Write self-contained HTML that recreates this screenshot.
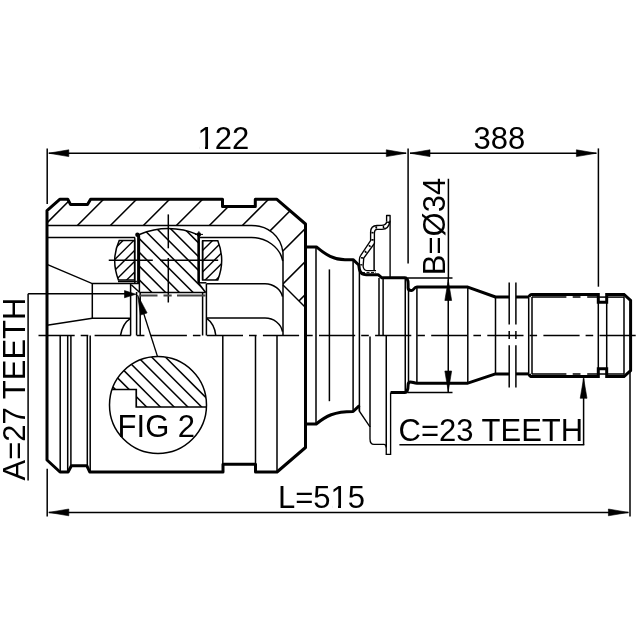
<!DOCTYPE html><html><head><meta charset="utf-8"><style>html,body{margin:0;padding:0;background:#fff;width:640px;height:640px;overflow:hidden}svg{display:block;will-change:transform}</style></head><body><svg width="640" height="640" viewBox="0 0 640 640" stroke="#000" fill="none" stroke-linecap="butt"><defs><clipPath id="cband"><path d="M47,210.6 L60,199.2 L67.75,199.2 L70.6,204.6 L87.5,204.6 L90.6,199.2 L222.5,199.2 L222.5,206.4 L255.3,206.4 L255.3,199.2 L276.6,199.2 L305.5,224 L305.5,307.5 L283,285 L283,252.5 C281,236 268,225.4 251.5,225.4 L47,225.4 Z"/></clipPath><clipPath id="ctrun"><path d="M139.4,234.5 Q169,222.5 198.5,235 L198.5,283 L205.6,292.5 L139.4,292.5 Z"/></clipPath><clipPath id="crollL"><path d="M134.6,240.6 L119.2,240.6 Q110.6,259.5 118.4,279.9 L134.6,279.9 Z"/></clipPath><clipPath id="crollR"><path d="M202.6,240.8 L217.8,240.8 Q225.6,260.3 217.8,279.9 L202.6,279.9 Z"/></clipPath><clipPath id="cfig"><circle cx="158" cy="405" r="48.5"/></clipPath><clipPath id="cfig2"><path d="M100,389.5 L136.25,389.5 L136.25,407 L210,407 L210,350 L100,350 Z"/></clipPath></defs>
<line x1="38.5" y1="335.5" x2="635.7" y2="335.5" stroke-width="1.5" stroke-dasharray="36.2 6 7.6 6.3"/>
<line x1="48.8" y1="153.2" x2="406" y2="153.2" stroke-width="1.5" />
<polygon points="48.8,153.2 68.8,149.8 68.8,156.6" fill="#000" stroke="#000" stroke-width="0.6" stroke-linejoin="miter"/>
<polygon points="406.3,153.2 386.3,156.6 386.3,149.8" fill="#000" stroke="#000" stroke-width="0.6" stroke-linejoin="miter"/>
<line x1="410" y1="153.2" x2="596.4" y2="153.2" stroke-width="1.5" />
<polygon points="410,153.2 430,149.8 430,156.6" fill="#000" stroke="#000" stroke-width="0.6" stroke-linejoin="miter"/>
<polygon points="596.4,153.2 576.4,156.6 576.4,149.8" fill="#000" stroke="#000" stroke-width="0.6" stroke-linejoin="miter"/>
<line x1="47.2" y1="148.4" x2="47.2" y2="204" stroke-width="1.5" />
<line x1="408.1" y1="148.4" x2="408.1" y2="263.5" stroke-width="1.5" />
<line x1="598.4" y1="148.4" x2="598.4" y2="286.7" stroke-width="1.5" />
<line x1="48.8" y1="512.4" x2="628.4" y2="512.4" stroke-width="1.5" />
<polygon points="48.8,512.4 68.8,509 68.8,515.8" fill="#000" stroke="#000" stroke-width="0.6" stroke-linejoin="miter"/>
<polygon points="628.4,512.4 608.4,515.8 608.4,509" fill="#000" stroke="#000" stroke-width="0.6" stroke-linejoin="miter"/>
<line x1="47.2" y1="468.7" x2="47.2" y2="516.6" stroke-width="1.5" />
<line x1="630" y1="371.6" x2="630" y2="516.6" stroke-width="1.5" />
<path d="M47,335.5 L47,210.6 L60,199.2 L67.75,199.2 L70.6,204.6 L87.5,204.6 L90.6,199.2 L222.5,199.2 L222.5,206.4 L255.3,206.4 L255.3,199.2 L276.6,199.2 L305.5,224 L305.5,447.5 L277,472 L255.5,472 L255.5,464.2 L223,464.2 L223,472 L89.7,472 L86.9,465.8 L71.4,465.8 L68.1,472 L60,472 L47,460 Z" stroke-width="3.0" fill="none" stroke-linejoin="round"/>
<g clip-path="url(#cband)">
<line x1="86.9" y1="150" x2="-283.1" y2="520" stroke-width="1.5" />
<line x1="119.9" y1="150" x2="-250.1" y2="520" stroke-width="1.5" />
<line x1="152.9" y1="150" x2="-217.1" y2="520" stroke-width="1.5" />
<line x1="185.9" y1="150" x2="-184.1" y2="520" stroke-width="1.5" />
<line x1="218.9" y1="150" x2="-151.1" y2="520" stroke-width="1.5" />
<line x1="251.9" y1="150" x2="-118.1" y2="520" stroke-width="1.5" />
<line x1="284.9" y1="150" x2="-85.1" y2="520" stroke-width="1.5" />
<line x1="317.9" y1="150" x2="-52.1" y2="520" stroke-width="1.5" />
<line x1="350.9" y1="150" x2="-19.1" y2="520" stroke-width="1.5" />
<line x1="383.9" y1="150" x2="13.9" y2="520" stroke-width="1.5" />
<line x1="416.9" y1="150" x2="46.9" y2="520" stroke-width="1.5" />
<line x1="449.9" y1="150" x2="79.9" y2="520" stroke-width="1.5" />
<line x1="482.9" y1="150" x2="112.9" y2="520" stroke-width="1.5" />
</g>
<path d="M47,225.4 L251.5,225.4 C268,225.4 281,236 283,252.5 L283,335.5" stroke-width="1.5" fill="none" />
<path d="M47,237.5 L135,237.5 M200,237.5 L251.5,237.5 C266,237.5 280,247 282.8,261" stroke-width="1.5" fill="none" />
<line x1="283" y1="285" x2="305.5" y2="307.5" stroke-width="1.5" />
<path d="M206.4,283.75 L265,283.75 C274,283.75 281,290 282.5,296.6" stroke-width="1.5" fill="none" />
<path d="M206.4,318.1 L265,318.1 C274,318.1 281,324 282.5,331.7" stroke-width="1.5" fill="none" />
<line x1="206.4" y1="283.75" x2="206.4" y2="335.5" stroke-width="1.5" />
<line x1="202.6" y1="292.5" x2="202.6" y2="335.5" stroke-width="1.5" />
<path d="M206.4,318.1 C212,322 215,328 215.8,335.5" stroke-width="1.5" fill="none" />
<path d="M47,264.4 L92.3,283.6 L139,283.6" stroke-width="1.5" fill="none" />
<line x1="92.3" y1="283.6" x2="92.3" y2="318.3" stroke-width="1.5" />
<path d="M47,325.3 L92.3,318.3 L130.6,318.3" stroke-width="1.5" fill="none" />
<line x1="130.6" y1="283.6" x2="130.6" y2="335.5" stroke-width="1.5" />
<line x1="136.6" y1="292" x2="136.6" y2="335.5" stroke-width="1.5" />
<line x1="140.2" y1="292.5" x2="140.2" y2="335.5" stroke-width="1.5" />
<line x1="131.25" y1="284.7" x2="139.2" y2="292" stroke-width="1.5" />
<path d="M120.5,335.5 C122,327 126,321 130.6,318.3" stroke-width="1.5" fill="none" />
<g clip-path="url(#ctrun)">
<line x1="-128.1" y1="150" x2="241.9" y2="520" stroke-width="1.5" />
<line x1="-114.35" y1="150" x2="255.65" y2="520" stroke-width="1.5" />
<line x1="-100.6" y1="150" x2="269.4" y2="520" stroke-width="1.5" />
<line x1="-86.85" y1="150" x2="283.15" y2="520" stroke-width="1.5" />
<line x1="-73.1" y1="150" x2="296.9" y2="520" stroke-width="1.5" />
<line x1="-59.35" y1="150" x2="310.65" y2="520" stroke-width="1.5" />
<line x1="-45.6" y1="150" x2="324.4" y2="520" stroke-width="1.5" />
<line x1="-31.85" y1="150" x2="338.15" y2="520" stroke-width="1.5" />
<line x1="-18.1" y1="150" x2="351.9" y2="520" stroke-width="1.5" />
<line x1="-4.35" y1="150" x2="365.65" y2="520" stroke-width="1.5" />
<line x1="9.4" y1="150" x2="379.4" y2="520" stroke-width="1.5" />
<line x1="23.15" y1="150" x2="393.15" y2="520" stroke-width="1.5" />
<line x1="36.9" y1="150" x2="406.9" y2="520" stroke-width="1.5" />
<line x1="50.65" y1="150" x2="420.65" y2="520" stroke-width="1.5" />
<line x1="64.4" y1="150" x2="434.4" y2="520" stroke-width="1.5" />
<line x1="78.15" y1="150" x2="448.15" y2="520" stroke-width="1.5" />
<line x1="91.9" y1="150" x2="461.9" y2="520" stroke-width="1.5" />
<line x1="105.65" y1="150" x2="475.65" y2="520" stroke-width="1.5" />
<line x1="119.4" y1="150" x2="489.4" y2="520" stroke-width="1.5" />
<line x1="133.15" y1="150" x2="503.15" y2="520" stroke-width="1.5" />
<line x1="146.9" y1="150" x2="516.9" y2="520" stroke-width="1.5" />
</g>
<path d="M139.4,292.5 L139.4,234.5 Q169,222.5 198.5,235 L198.5,283 L205.6,292.5" stroke-width="1.5" fill="none" />
<g clip-path="url(#crollL)">
<line x1="181.1" y1="150" x2="-188.9" y2="520" stroke-width="1.4" />
<line x1="191.9" y1="150" x2="-178.1" y2="520" stroke-width="1.4" />
<line x1="202.7" y1="150" x2="-167.3" y2="520" stroke-width="1.4" />
<line x1="213.5" y1="150" x2="-156.5" y2="520" stroke-width="1.4" />
<line x1="224.3" y1="150" x2="-145.7" y2="520" stroke-width="1.4" />
<line x1="235.1" y1="150" x2="-134.9" y2="520" stroke-width="1.4" />
<line x1="245.9" y1="150" x2="-124.1" y2="520" stroke-width="1.4" />
<line x1="256.7" y1="150" x2="-113.3" y2="520" stroke-width="1.4" />
<line x1="267.5" y1="150" x2="-102.5" y2="520" stroke-width="1.4" />
<line x1="278.3" y1="150" x2="-91.7" y2="520" stroke-width="1.4" />
<line x1="289.1" y1="150" x2="-80.9" y2="520" stroke-width="1.4" />
<line x1="299.9" y1="150" x2="-70.1" y2="520" stroke-width="1.4" />
<line x1="310.7" y1="150" x2="-59.3" y2="520" stroke-width="1.4" />
<line x1="321.5" y1="150" x2="-48.5" y2="520" stroke-width="1.4" />
</g>
<path d="M134.6,240.6 L119.2,240.6 Q110.6,259.5 118.4,279.9 L134.6,279.9 Z" stroke-width="1.5" fill="none" />
<g clip-path="url(#crollR)">
<line x1="271" y1="150" x2="-99" y2="520" stroke-width="1.4" />
<line x1="281.7" y1="150" x2="-88.3" y2="520" stroke-width="1.4" />
<line x1="292.4" y1="150" x2="-77.6" y2="520" stroke-width="1.4" />
<line x1="303.1" y1="150" x2="-66.9" y2="520" stroke-width="1.4" />
<line x1="313.8" y1="150" x2="-56.2" y2="520" stroke-width="1.4" />
<line x1="324.5" y1="150" x2="-45.5" y2="520" stroke-width="1.4" />
<line x1="335.2" y1="150" x2="-34.8" y2="520" stroke-width="1.4" />
<line x1="345.9" y1="150" x2="-24.1" y2="520" stroke-width="1.4" />
<line x1="356.6" y1="150" x2="-13.4" y2="520" stroke-width="1.4" />
<line x1="367.3" y1="150" x2="-2.7" y2="520" stroke-width="1.4" />
<line x1="378" y1="150" x2="8" y2="520" stroke-width="1.4" />
<line x1="388.7" y1="150" x2="18.7" y2="520" stroke-width="1.4" />
<line x1="399.4" y1="150" x2="29.4" y2="520" stroke-width="1.4" />
</g>
<path d="M202.6,240.8 L217.8,240.8 Q225.6,260.3 217.8,279.9 L202.6,279.9 Z" stroke-width="1.5" fill="none" />
<line x1="134.8" y1="237.5" x2="134.8" y2="283.3" stroke-width="1.4" />
<line x1="138.2" y1="235" x2="138.2" y2="283.3" stroke-width="2.2" />
<line x1="198.7" y1="235.5" x2="198.7" y2="282.5" stroke-width="2.5" />
<circle cx="137.4" cy="234.8" r="2.2" fill="#000" stroke="none"/>
<circle cx="198.9" cy="234.4" r="2.2" fill="#000" stroke="none"/>
<line x1="195" y1="234.4" x2="203" y2="234.4" stroke-width="1.0" />
<line x1="198.9" y1="231.2" x2="198.9" y2="236" stroke-width="1.0" />
<line x1="202.6" y1="240.8" x2="202.6" y2="279.9" stroke-width="1.5" />
<line x1="198.5" y1="282.8" x2="206.4" y2="282.8" stroke-width="1.5" />
<line x1="118" y1="281.5" x2="136.9" y2="281.5" stroke-width="1.5" />
<line x1="108.75" y1="260.3" x2="152.8" y2="260.3" stroke-width="1.5" />
<line x1="160.2" y1="260.3" x2="218.2" y2="260.3" stroke-width="1.5" />
<line x1="168.3" y1="214.4" x2="168.3" y2="248.3" stroke-width="1.5" />
<line x1="168.3" y1="258" x2="168.3" y2="302.5" stroke-width="1.5" />
<line x1="139.4" y1="292.5" x2="205.6" y2="292.5" stroke-width="1.4" />
<line x1="139.4" y1="295.6" x2="205.6" y2="295.6" stroke-width="2.0" stroke="#444" stroke-dasharray="18.1 6 8.2 5.3 40"/>
<path d="M305.5,246.9 L316.4,246.9 C326,255 334,259.7 345,259.7 L353.1,259.7 L358.75,265 L359.4,269.4 C360,272 362,274.7 366.25,274.7 L378.1,274.7 L381.9,277.8 L405,277.8 C408,277.8 408.1,281 408.1,284 L408.1,288 C408.1,290 410,290.6 411.5,290.6 C413.5,290.6 414,287.1 416.9,287.1 L467.8,287.1 L495.5,297 L509,297" stroke-width="3.0" fill="none" stroke-linejoin="round"/>
<path d="M305.5,424 L316.2,424 C326,416 334,411.5 353.1,411.5 L359.4,405.6" stroke-width="3.0" fill="none" stroke-linejoin="round"/>
<path d="M390.6,392.5 L405,392.5 C407,392.5 408.1,389 408.1,385 C408.1,383 409,381.9 410.5,381.9 C413,381.9 414,383.2 416.9,383.2 L467.8,383.2 L495.5,373.9 L509,373.9" stroke-width="3.0" fill="none" stroke-linejoin="round"/>
<line x1="316" y1="246.9" x2="316" y2="424" stroke-width="1.5" />
<line x1="329.4" y1="269.4" x2="329.4" y2="401.2" stroke-width="1.5" />
<line x1="353.1" y1="259.7" x2="353.1" y2="411.5" stroke-width="1.5" />
<line x1="359.4" y1="266" x2="359.4" y2="411.25" stroke-width="1.5" />
<line x1="379" y1="278" x2="379" y2="335.5" stroke-width="1.5" />
<line x1="383.1" y1="278" x2="383.1" y2="335.5" stroke-width="1.5" />
<line x1="405.25" y1="278" x2="405.25" y2="392.5" stroke-width="1.5" />
<line x1="408.5" y1="288" x2="408.5" y2="382.5" stroke-width="1.5" />
<line x1="416.9" y1="287.1" x2="416.9" y2="383.2" stroke-width="1.5" />
<line x1="467.8" y1="287.1" x2="467.8" y2="383.2" stroke-width="1.5" />
<line x1="495.5" y1="297.1" x2="495.5" y2="373.9" stroke-width="1.5" />
<line x1="516" y1="297" x2="529" y2="297" stroke-width="3.0" />
<line x1="516" y1="373.9" x2="529" y2="373.9" stroke-width="3.0" />
<line x1="509.2" y1="282.6" x2="509.2" y2="324.5" stroke-width="1.5" />
<line x1="509.2" y1="331" x2="509.2" y2="339" stroke-width="1.5" />
<line x1="509.2" y1="345.2" x2="509.2" y2="387.5" stroke-width="1.5" />
<line x1="515.9" y1="282.6" x2="515.9" y2="324.5" stroke-width="1.5" />
<line x1="515.9" y1="331" x2="515.9" y2="339" stroke-width="1.5" />
<line x1="515.9" y1="345.2" x2="515.9" y2="387.5" stroke-width="1.5" />
<path d="M386.6,221.5 C386.6,223.8 385,225.3 381.25,225.3 L377,225.5 C373,225.7 370.6,227.5 370.6,232 L370.6,240.5 L360.6,255.6 C359.6,257 359.4,258 359.4,259.5 L359.4,265" stroke-width="1.35" fill="none" />
<path d="M390.1,220.6 C389.5,225.5 387,229.2 382,229.3 L377,229.4 C375.2,229.5 374.4,230.8 374.4,233 L374.4,243.5 L363.75,258.1 L363.1,266.25 C363.5,269 364.5,270.6 367,270.6 L376,270.6" stroke-width="1.35" fill="none" />
<path d="M386.6,221.5 L386.6,215.5 L390.1,215.5 L390.1,277.5" stroke-width="1.35" fill="none" stroke-linejoin="round"/>
<line x1="362" y1="272.6" x2="376" y2="272.6" stroke-width="1.0" stroke-dasharray="3 1.5"/>
<path d="M388.35,221.5 C388,224.6 386,227.25 381.6,227.3 L377,227.45 C374.1,227.6 372.5,229.15 372.5,232.5 L372.5,242 L362.2,256.85 L361.3,265.5" stroke-width="2.2" fill="none" stroke-dasharray="1.6 5.5"/>
<line x1="374.1" y1="243.75" x2="374.1" y2="270.6" stroke-width="1.5" />
<path d="M359.4,405.6 L359.4,411.25 L370,426.9 L370,438.75 C370,442.5 371,444.4 374,444.4 L383.75,444.4 C385.5,444.4 386.25,446 386.25,448 L386.25,454.4 L390.6,454.4 L390.6,392.5" stroke-width="1.35" fill="none" />
<line x1="370" y1="336.5" x2="370" y2="426.9" stroke-width="1.5" />
<line x1="386.25" y1="335.5" x2="386.25" y2="447.5" stroke-width="1.5" />
<path d="M529.1,297 C529.5,295.2 530.5,294.4 532,294.4 L598.3,294.4 L598.3,302.3 L606.7,302.3 L606.7,294.4 L624,294.4 L630.6,300.5 L630.6,370.5 L624,376.6 L606.7,376.6 L606.7,368.7 L598.3,368.7 L598.3,376.6 L532,376.6 C530.5,376.6 529.5,375.5 529.1,374" stroke-width="3.0" fill="none" stroke-linejoin="miter"/>
<line x1="528.7" y1="297" x2="528.7" y2="374" stroke-width="1.5" />
<line x1="532" y1="297" x2="532" y2="374" stroke-width="1.5" />
<line x1="532" y1="297.1" x2="598" y2="297.1" stroke-width="1.5" stroke-dasharray="34.4 6.3 7.8 6.7 11"/>
<line x1="532" y1="374" x2="598" y2="374" stroke-width="1.5" stroke-dasharray="34.4 6.3 7.8 6.7 11"/>
<line x1="598.3" y1="297.1" x2="624" y2="297.1" stroke-width="1.5" />
<line x1="598.3" y1="374" x2="624" y2="374" stroke-width="1.5" />
<line x1="598.3" y1="302.3" x2="598.3" y2="368.7" stroke-width="1.5" />
<line x1="606.7" y1="302.3" x2="606.7" y2="368.7" stroke-width="1.5" />
<line x1="624" y1="296.5" x2="624" y2="374.5" stroke-width="1.5" />
<line x1="448.25" y1="278.1" x2="448.25" y2="392.5" stroke-width="1.5" />
<polygon points="448.25,280 451.65,300.5 444.85,300.5" fill="#000" stroke="#000" stroke-width="0.6" stroke-linejoin="miter"/>
<polygon points="448.25,391.5 444.85,371 451.65,371" fill="#000" stroke="#000" stroke-width="0.6" stroke-linejoin="miter"/>
<line x1="407.5" y1="278.1" x2="452.5" y2="278.1" stroke-width="1.5" />
<line x1="407.5" y1="392.5" x2="452.5" y2="392.5" stroke-width="1.5" />
<line x1="448.4" y1="178.75" x2="448.4" y2="278.1" stroke-width="1.5" />
<line x1="583.6" y1="378.3" x2="583.6" y2="444.8" stroke-width="1.5" />
<polygon points="583.6,378.3 587,398.3 580.2,398.3" fill="#000" stroke="#000" stroke-width="0.6" stroke-linejoin="miter"/>
<line x1="399.4" y1="444.8" x2="584.3" y2="444.8" stroke-width="1.5" />
<line x1="28.1" y1="293.8" x2="28.1" y2="480.6" stroke-width="1.5" />
<line x1="28.1" y1="293.8" x2="128" y2="293.8" stroke-width="1.5" />
<polygon points="136,294.2 124.5,297.8 124.5,290.6" fill="#000" stroke="#000" stroke-width="0.6" stroke-linejoin="miter"/>
<circle cx="158" cy="405" r="48.5" fill="none" stroke-width="1.5"/>
<g clip-path="url(#cfig)">
<g clip-path="url(#cfig2)">
<line x1="-151.6" y1="150" x2="218.4" y2="520" stroke-width="1.5" />
<line x1="-137.85" y1="150" x2="232.15" y2="520" stroke-width="1.5" />
<line x1="-124.1" y1="150" x2="245.9" y2="520" stroke-width="1.5" />
<line x1="-110.35" y1="150" x2="259.65" y2="520" stroke-width="1.5" />
<line x1="-96.6" y1="150" x2="273.4" y2="520" stroke-width="1.5" />
<line x1="-82.85" y1="150" x2="287.15" y2="520" stroke-width="1.5" />
<line x1="-69.1" y1="150" x2="300.9" y2="520" stroke-width="1.5" />
<line x1="-55.35" y1="150" x2="314.65" y2="520" stroke-width="1.5" />
<line x1="-41.6" y1="150" x2="328.4" y2="520" stroke-width="1.5" />
<line x1="-27.85" y1="150" x2="342.15" y2="520" stroke-width="1.5" />
<line x1="-14.1" y1="150" x2="355.9" y2="520" stroke-width="1.5" />
<line x1="-0.35" y1="150" x2="369.65" y2="520" stroke-width="1.5" />
<line x1="13.4" y1="150" x2="383.4" y2="520" stroke-width="1.5" />
<line x1="27.15" y1="150" x2="397.15" y2="520" stroke-width="1.5" />
<line x1="40.9" y1="150" x2="410.9" y2="520" stroke-width="1.5" />
<line x1="54.65" y1="150" x2="424.65" y2="520" stroke-width="1.5" />
<line x1="68.4" y1="150" x2="438.4" y2="520" stroke-width="1.5" />
<line x1="82.15" y1="150" x2="452.15" y2="520" stroke-width="1.5" />
<line x1="95.9" y1="150" x2="465.9" y2="520" stroke-width="1.5" />
<line x1="109.65" y1="150" x2="479.65" y2="520" stroke-width="1.5" />
<line x1="123.4" y1="150" x2="493.4" y2="520" stroke-width="1.5" />
<line x1="137.15" y1="150" x2="507.15" y2="520" stroke-width="1.5" />
</g>
</g>
<path d="M100,389.5 L136.25,389.5 L136.25,407 L210,407" stroke-width="1.7" fill="none" clip-path="url(#cfig)"/>
<line x1="157.5" y1="356.5" x2="140" y2="302" stroke-width="1.3" />
<polygon points="137.6,295 147.11,312.94 140.45,315.1" fill="#000" stroke="#000" stroke-width="0.6" stroke-linejoin="miter"/>
<line x1="60.2" y1="335.5" x2="60.2" y2="471" stroke-width="1.5" />
<line x1="67.7" y1="335.5" x2="67.7" y2="471" stroke-width="1.5" />
<line x1="70.9" y1="335.5" x2="70.9" y2="466.7" stroke-width="1.5" />
<line x1="87.3" y1="335.5" x2="87.3" y2="466.7" stroke-width="1.5" />
<line x1="90.2" y1="335.5" x2="90.2" y2="471" stroke-width="1.5" />
<line x1="222.8" y1="335.5" x2="222.8" y2="471" stroke-width="1.5" />
<line x1="255.5" y1="335.5" x2="255.5" y2="471" stroke-width="1.5" />
<line x1="277" y1="335.5" x2="277" y2="471" stroke-width="1.5" />
<text x="197.6" y="149" font-family="Liberation Sans" fill="#000" stroke="none" font-size="31">122</text>
<text x="473.6" y="149" font-family="Liberation Sans" fill="#000" stroke="none" font-size="31">388</text>
<text x="277.9" y="508.1" font-family="Liberation Sans" fill="#000" stroke="none" font-size="31">L=515</text>
<text x="117.6" y="436.6" font-family="Liberation Sans" fill="#000" stroke="none" font-size="31">FIG 2</text>
<text x="398.5" y="441.4" font-family="Liberation Sans" fill="#000" stroke="none" font-size="31">C=23 TEETH</text>
<text transform="translate(25,480.5) rotate(-90)" font-family="Liberation Sans" fill="#000" stroke="none" font-size="31">A=27 TEETH</text>
<text transform="translate(445,275.2) rotate(-90)" font-family="Liberation Sans" fill="#000" stroke="none" font-size="31">B=Ø34</text>
<rect x="199.4" y="146" width="5.6" height="3" fill="#fff" stroke="none"/>
<rect x="208" y="146" width="6.4" height="3" fill="#fff" stroke="none"/>
<rect x="332.4" y="505" width="5.6" height="3" fill="#fff" stroke="none"/>
<rect x="341" y="505" width="6.4" height="3" fill="#fff" stroke="none"/></svg></body></html>
